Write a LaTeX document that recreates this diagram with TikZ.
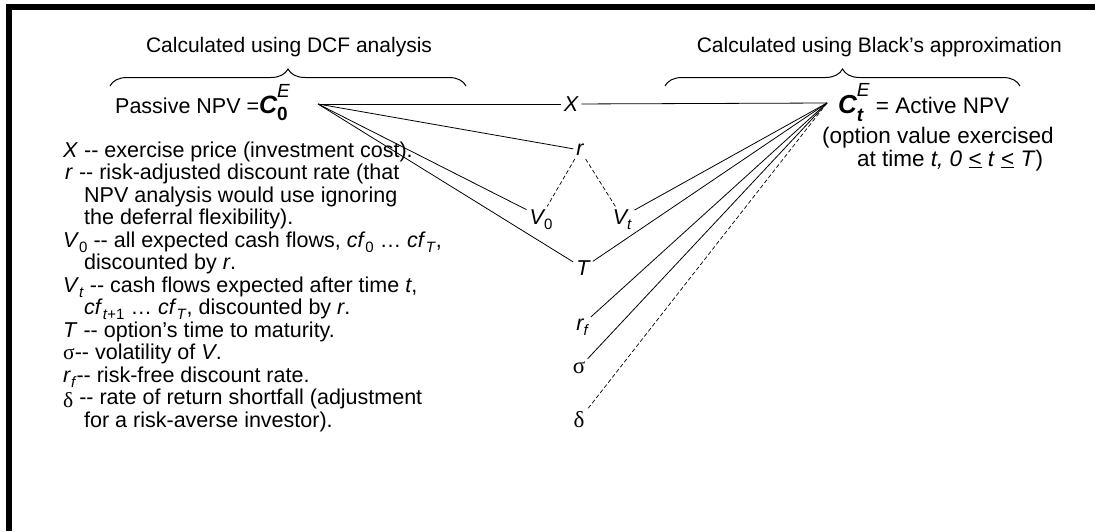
\documentclass[tikz,border=0pt]{standalone}
\usepackage{fontspec}
\setmainfont{Liberation Sans}
\newfontfamily\grk{Liberation Serif}
\usetikzlibrary{decorations.pathreplacing}
\newcommand\lo[1]{\raisebox{-0.24em}[0pt][0pt]{\fontsize{15}{15}\selectfont #1}}
\newcommand\bigsub[1]{\raisebox{-0.36em}[0pt][0pt]{\fontsize{19}{19}\selectfont #1}}
\newcommand\bigsup[1]{\raisebox{0.72em}[0pt][0pt]{\fontsize{19}{19}\selectfont #1}}
\newcommand\dsh{-{}-}
\newcommand\bigC{{\fontsize{25}{25}\selectfont\bfseries\itshape C}}
\newcommand\bigCr{{\fontsize{26}{26}\selectfont\bfseries\itshape C}}
\begin{document}
\begin{tikzpicture}[x=1pt,y=-1pt,
  txt/.style={font=\fontsize{21.5}{22.5}\selectfont, inner sep=0pt, anchor=base west},
  rtxt/.style={font=\fontsize{22.5}{23}\selectfont, inner sep=0pt, anchor=base west},
  head/.style={font=\fontsize{21}{22}\selectfont, inner sep=0pt},
  var/.style={font=\fontsize{21.5}{22.5}\selectfont\itshape, inner sep=3pt},
  gvar/.style={font=\fontsize{23}{23}\selectfont\grk, inner sep=3pt},
  link/.style={line width=0.8pt},
  dlink/.style={line width=0.7pt, dash pattern=on 4pt off 2.5pt},
  bracedeco/.style={decorate, decoration={brace, amplitude=17pt}, line width=1pt}]
\useasboundingbox (0,0) rectangle (1095,531);
\fill (6,4) rectangle (1095,10);
\fill (6,4) rectangle (12,531);
% headings and braces
\node[head, anchor=base] (h1) at (289,52) {Calculated using DCF analysis};
\node[head, anchor=base east] (h2) at (1062,52) {Calculated using Black’s approximation};
\draw[bracedeco] (110,86) -- (466,86);
\draw[bracedeco] (665,86) -- (1020,86);
% main formulas
\node[txt] (pnpv) at (115,113) {Passive NPV =\bigC\rlap{\bigsub{\bfseries 0}}\bigsup{\itshape E}};
\node[rtxt] (anpv) at (838,113) {\bigCr\rlap{\bigsub{\bfseries\itshape t}}\bigsup{\itshape E} = Active NPV};
\node[rtxt] (opt1) at (822,143) {(option value exercised};
\node[rtxt] (opt2) at (857,166) {at time \textit{t, 0} \underline{<} \textit{t} \underline{<} \textit{T})};
% legend
\node[txt] (l1) at (63,157) {\textit{X} \dsh{} exercise price (investment cost).};
\node[txt] (l2) at (65,179.5) {\textit{r} \dsh{} risk-adjusted discount rate (that};
\node[txt] (l3) at (84,202) {NPV analysis would use ignoring};
\node[txt] (l4) at (84,224.5) {the deferral flexibility).};
\node[txt] (l5) at (63,247) {\textit{V}\lo{0} \dsh{} all expected cash flows, \textit{cf}\lo{0} … \textit{cf}\lo{\textit{T}},};
\node[txt] (l6) at (84,269.5) {discounted by \textit{r}.};
\node[txt] (l7) at (63,292) {\textit{V}\lo{\textit{t}} \dsh{} cash flows expected after time \textit{t},};
\node[txt] (l8) at (84,314.5) {\textit{cf}\lo{\textit{t}+1} … \textit{cf}\lo{\textit{T}}, discounted by \textit{r}.};
\node[txt] (l9) at (63,337) {\textit{T} \dsh{} option’s time to maturity.};
\node[txt] (l10) at (63,359.5) {{\grk σ}\dsh{} volatility of \textit{V}.};
\node[txt] (l11) at (63,382) {\textit{r}\lo{\textit{f}}\dsh{} risk-free discount rate.};
\node[txt] (l12) at (63,404.5) {\raisebox{-0.15em}{\grk δ} \dsh{} rate of return shortfall (adjustment};
\node[txt] (l13) at (84,427) {for a risk-averse investor).};
% variables
\node[var] (X) at (571,104) {X};
\node[var] (r) at (580,150) {r};
\node[var] (V0) at (541,217) {V\lo{\upshape 0}};
\node[var] (Vt) at (622,217) {V\lo{t}};
\node[var] (T) at (583,268) {T};
\node[var] (rf) at (582,325) {r\lo{f}};
\node[gvar] (sig) at (579,368) {σ};
\node[gvar] (del) at (579,420) {δ};
\coordinate (L) at (318,104);
\coordinate (R) at (827,103);
% connectors
\draw[link] (L) -- (X);
\draw[link] (X) -- (R);
\draw[link] (L) -- (r);
\draw[link] (L) -- (V0);
\draw[link] (L) -- (T);
\draw[link] (R) -- (Vt);
\draw[link] (R) -- (T);
\draw[link] (R) -- (rf);
\draw[link] (R) -- (sig);
\draw[dlink] (R) -- (del);
\draw[dlink] (r) -- (V0);
\draw[dlink] (r) -- (Vt);
\end{tikzpicture}
\end{document}
